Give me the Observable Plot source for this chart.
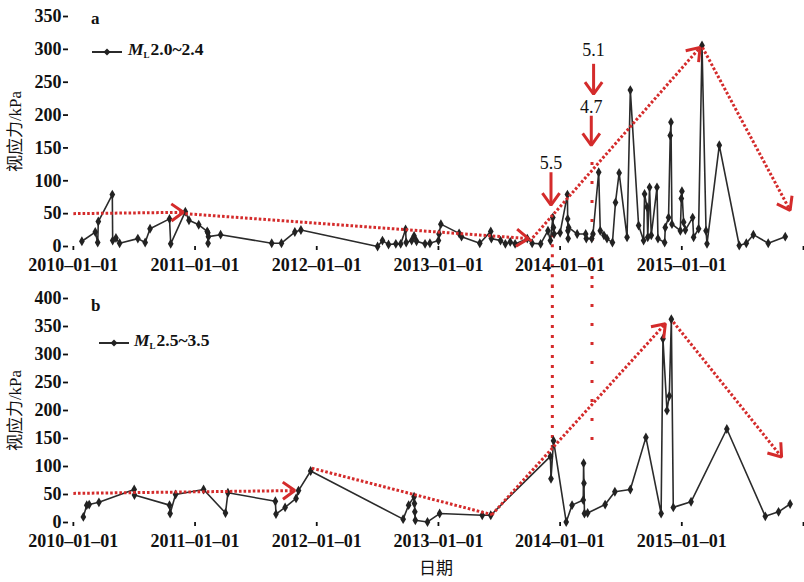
<!DOCTYPE html>
<html><head><meta charset="utf-8">
<script src="https://cdn.jsdelivr.net/npm/d3@7"></script>
<script src="https://cdn.jsdelivr.net/npm/@observablehq/plot@0.6"></script>
<style>
body{margin:0;background:#fff;}
#wrap{position:relative;width:804px;height:582px;background:#fff;overflow:hidden;font-family:"Liberation Serif","Noto Sans CJK SC",serif;color:#111;}
.panel{position:absolute;left:0;}
.panel svg{display:block;overflow:visible;font-family:"Liberation Serif","Noto Sans CJK SC",serif !important;}
.panel svg text{font-family:"Liberation Serif","Noto Sans CJK SC",serif !important;}
g[aria-label="x-axis tick label"], g[aria-label="y-axis tick label"]{font-weight:bold;font-size:18px;}
g[aria-label="y-axis label"], g[aria-label="x-axis label"]{font-size:17px;}
.tag{position:absolute;font-weight:bold;font-size:17px;line-height:17px;z-index:3;}
.leg{position:absolute;display:flex;align-items:center;font-weight:bold;font-size:17.5px;line-height:18px;z-index:3;}
.leg i{font-style:italic;}
.leg sub{font-size:9px;font-weight:bold;vertical-align:-3px;margin-right:1px;}
</style>
</head><body>
<div id="wrap">
  <div class="panel" id="pa" style="top:0"></div>
  <div class="panel" id="pb" style="top:285px"></div>
  <div class="tag" style="left:91px;top:10px">a</div>
  <div class="leg" style="left:92px;top:40px"><svg width="30" height="18"><line x1="0" y1="9" x2="30" y2="9" stroke="#2b2b2b" stroke-width="2"/><path d="M15,5.5L18.5,9L15,12.5L11.5,9Z" fill="#222"/></svg><span style="margin-left:6px"><i>M</i><sub>L</sub>2.0~2.4</span></div>
  <div class="tag" style="left:91px;top:297px">b</div>
  <div class="leg" style="left:99px;top:331px"><svg width="30" height="18"><line x1="0" y1="9" x2="30" y2="9" stroke="#2b2b2b" stroke-width="2"/><path d="M15,5.5L18.5,9L15,12.5L11.5,9Z" fill="#222"/></svg><span style="margin-left:5px"><i>M</i><sub>L</sub>2.5~3.5</span></div>
</div>
<script>
// ---- data (time as decimal year) ----
const yearTicks = [2010, 2011, 2012, 2013, 2014, 2015, 2016];
const yTicksA = [0, 50, 100, 150, 200, 250, 300, 350];
const yTicksB = [0, 50, 100, 150, 200, 250, 300, 350, 400];

// panel a: ML 2.0~2.4
const tA = [2010.07,2010.18,2010.20,2010.205,2010.32,2010.323,2010.35,2010.38,2010.53,2010.59,2010.63,2010.79,2010.80,2010.92,2010.95,
  2011.03,2011.10,2011.105,2011.107,2011.11,2011.21,2011.63,2011.71,2011.82,2011.87,
  2012.50,2012.54,2012.59,2012.65,2012.69,2012.73,2012.735,2012.78,2012.80,2012.82,2012.89,2012.93,2013.00,2013.005,2013.02,
  2013.17,2013.19,2013.34,2013.43,2013.435,2013.51,2013.55,2013.59,2013.63,2013.73,2013.77,2013.84,2013.90,2013.92,2013.94,2013.945,2013.95,
  2014.00,2014.06,2014.062,2014.064,2014.066,2014.07,2014.14,2014.21,2014.215,2014.26,2014.27,2014.317,2014.33,2014.36,2014.385,2014.43,
  2014.455,2014.485,2014.55,2014.577,2014.645,2014.686,2014.694,2014.714,2014.72,2014.735,2014.749,2014.796,2014.804,2014.859,2014.864,
  2014.891,2014.905,2014.911,2014.919,2014.988,2014.996,2015.001,2015.015,2015.029,2015.089,2015.097,2015.138,2015.166,2015.199,2015.207,
  2015.308,2015.472,2015.53,2015.588,2015.71,2015.85];
const vA = [8,22,6,38,79,9,13,5,12,6,27,42,4,53,40,
  33,23,21,5,15,18,5,5,22,25,
  0,9,3,4,4,26,6,9,16,8,4,5,9,19,34,
  20,15,5,23,12,9,4,7,4,12,5,4,24,9,44,29,19,
  21,79,42,24,12,29,19,19,12,12,19,113,24,17,12,6,
  67,112,14,238,32,9,80,60,14,90,17,90,12,6,29,
  44,169,189,34,24,73,84,37,25,44,14,27,306,24,4,
  154,1.5,5,18,5,15];

// panel b: ML 2.5~3.5
const tB = [2010.082,2010.11,2010.13,2010.21,2010.50,2010.502,2010.79,2010.795,2010.84,2011.07,2011.25,2011.27,2011.66,2011.665,2011.74,
  2011.83,2011.85,2011.95,2012.71,2012.755,2012.80,2012.803,2012.806,2012.81,2012.91,2013.01,2013.36,2013.43,
  2013.92,2013.925,2013.946,2014.05,2014.098,2014.19,2014.193,2014.196,2014.20,2014.226,2014.37,2014.45,2014.577,2014.705,
  2014.83,2014.845,2014.878,2014.897,2014.914,2014.93,2015.076,2015.37,2015.686,2015.795,2015.89];
const vB = [10,31,32,36,59,49,31,16,50,59,17,53,38,15,27,
  43,57,92,6,31,46,34,19,4,1,16,13,13,
  118,78,146,1,31,40,106,70,16,17,32,55,59,152,
  16,328,200,226,363,27,37,167,11,19,33];

// trend arrows [t1, v1, t2, v2, hasHead]
const trendA = [[2010.0,50,2010.904,52,1],[2010.92,50,2013.74,12,1],[2013.75,8,2015.15,303,1],[2015.17,303,2015.89,55,1]];
const trendB = [[2010.0,52,2011.82,57,1],[2011.96,97,2013.44,14,0],[2013.44,14,2014.865,355,1],[2014.93,358,2015.82,117,1]];

// earthquake marks (panel a)
const quakeMag = ["5.5", "4.7", "5.1"];
const quakeT = [2013.925, 2014.256, 2014.275];
const quakeTextV = [126, 212, 298];
const quakeArrowFrom = [113, 199, 278];
const quakeArrowTo = [63, 154, 232];

// vertical event lines [top value, bottom value]
const eventT = [2013.936, 2014.262];
const eventA = [[18, -59], [128, -59]];
const eventB = [[423, 133], [423, 138]];

const RED = "#d42b2b";

function rows(t, v) { return t.map((x, i) => ({t: x, v: v[i]})); }
function trendRows(a) { return a.map(([t1, v1, t2, v2, head]) => ({t1, v1, t2, v2, head})); }

function panel({t, v, yTicks, yMax, height, marginTop, marginBottom, trend, events, xLabel, extra}) {
  const pts = rows(t, v);
  const tr = trendRows(trend);
  const ev = events.map(([a, b], i) => ({t: eventT[i], a, b}));
  const svg = Plot.plot({
    width: 804, height, marginLeft: 68, marginRight: 1, marginTop, marginBottom,
    style: {fontFamily: '"Liberation Serif","Noto Sans CJK SC",serif', fontSize: "17px", color: "#111", background: "transparent", overflow: "visible"},
    x: {type: "linear", domain: [2009.96, 2016.0]},
    y: {domain: [0, yMax]},
    marks: [
      Plot.ruleX([ev[0]], {x: "t", y1: "a", y2: "b", stroke: RED, strokeWidth: 3, strokeDasharray: "3,7"}),
      Plot.ruleX([ev[1]], {x: "t", y1: "a", y2: "b", stroke: RED, strokeWidth: 3, strokeDasharray: "3,16"}),
      Plot.line(pts, {x: "t", y: "v", stroke: "#2b2b2b", strokeWidth: 1.6}),
      Plot.dot(pts, {x: "t", y: "v", symbol: "diamond", r: 3, fill: "#222"}),
      Plot.link(tr.filter(d => !d.head), {x1: "t1", y1: "v1", x2: "t2", y2: "v2", stroke: RED, strokeWidth: 3, strokeDasharray: "2.6,2"}),
      Plot.link(tr.filter(d => d.head), {x1: "t1", y1: "v1", x2: "t2", y2: "v2", stroke: RED, strokeWidth: 3, strokeDasharray: "2.6,2", markerEnd: "arrow"}),
      ...(extra || []),
      Plot.axisY({ticks: yTicks, tickSize: 5, tickPadding: 2, strokeWidth: 1.8, line: true,
        label: "视应力/kPa", labelAnchor: "center", labelOffset: 60, labelArrow: "none"}),
      Plot.axisX({ticks: yearTicks, tickFormat: d => d === 2016 ? "" : `${d}–01–01`, tickSize: 4, tickPadding: 8, strokeWidth: 1.8, line: true,
        label: xLabel, labelAnchor: "center", labelOffset: 51, labelArrow: "none"})
    ]
  });
  // solid, larger arrowheads on markers
  d3.select(svg).selectAll("marker")
    .attr("viewBox", "-10 -10 20 20").attr("markerWidth", 13.33).attr("markerHeight", 13.33)
    .attr("stroke-dasharray", "none")
    .selectAll("path").attr("d", "M-6,-4.3L0,0L-6,4.3").attr("stroke-dasharray", "none")
    .attr("stroke-linecap", "butt").attr("stroke-linejoin", "miter");
  return svg;
}

const quakes = quakeMag.map((m, i) => ({m, t: quakeT[i], tv: quakeTextV[i], a: quakeArrowFrom[i], b: quakeArrowTo[i]}));
const quakeMarks = [
  Plot.link(quakes, {x1: "t", x2: "t", y1: "a", y2: "b", stroke: RED, strokeWidth: 3, markerEnd: "arrow"}),
  Plot.text(quakes, {x: "t", y: "tv", text: "m", fontSize: 18, fill: "#111"})
];

document.getElementById("pa").appendChild(panel({
  t: tA, v: vA, yTicks: yTicksA, yMax: 350, height: 285, marginTop: 16, marginBottom: 39,
  trend: trendA, events: eventA, xLabel: null, extra: quakeMarks
}));
document.getElementById("pb").appendChild(panel({
  t: tB, v: vB, yTicks: yTicksB, yMax: 400, height: 297, marginTop: 13, marginBottom: 60,
  trend: trendB, events: eventB, xLabel: "日期"
}));
</script>
</body></html>
